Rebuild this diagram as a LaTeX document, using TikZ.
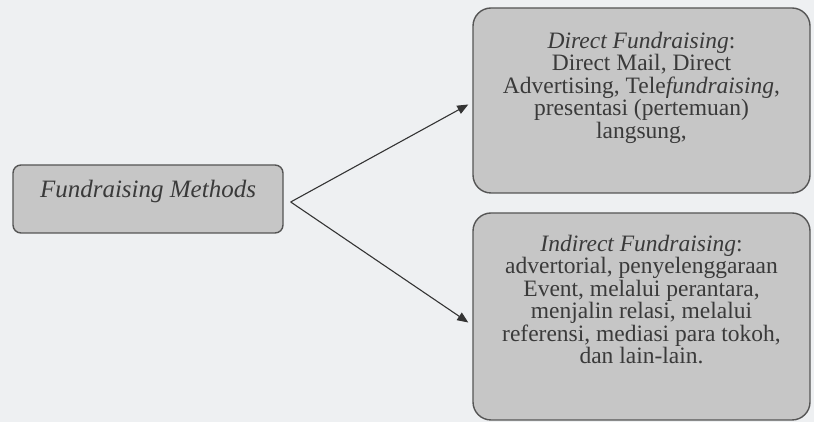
\documentclass[tikz,border=0pt]{standalone}
\usepackage{fontspec}
\setmainfont{Liberation Serif}
\usetikzlibrary{arrows.meta}
\definecolor{bgc}{HTML}{EEF0F2}
\definecolor{boxfill}{HTML}{C6C6C6}
\definecolor{boxline}{HTML}{555555}
\definecolor{txtc}{HTML}{3A3A3A}
\tikzset{
  box/.style={draw=boxline, line width=1.4pt, fill=boxfill, rounded corners=#1, inner sep=0pt},
  box/.default=18pt,
  txt/.style={text=txtc, align=center, font=\fontsize{23.5}{22.5}\selectfont, inner sep=0pt},
  conn/.style={draw=txtc!90!black, line width=1.1pt, -{Triangle[length=11pt,width=9pt]}}
}
\begin{document}
\begin{tikzpicture}[x=1pt,y=1pt]
\fill[bgc] (0,0) rectangle (814,422);
\useasboundingbox (0,0) rectangle (814,422);
\node[box=8pt, minimum width=270pt, minimum height=68pt] (lb) at (148,223) {};
\node[txt, font=\fontsize{25}{26}\selectfont] (lbt) at ([yshift=8pt]lb.center) {\itshape Fundraising Methods};
\node[box, minimum width=337pt, minimum height=185pt] (tb) at (641.5,321.5) {};
\node[txt] (tbt) at ([yshift=13pt]tb.center) {\textit{Direct Fundraising}:\\Direct Mail, Direct\\Advertising, Tele\textit{fundraising},\\presentasi (pertemuan)\\langsung,};
\node[box, minimum width=337pt, minimum height=207pt] (bb) at (641.5,105.5) {};
\node[txt] (bbt) at ([yshift=17pt]bb.center) {\textit{Indirect Fundraising}:\\advertorial, penyelenggaraan\\Event, melalui perantara,\\menjalin relasi, melalui\\referensi, mediasi para tokoh,\\dan lain-lain.};
\coordinate (st) at ([xshift=7pt,yshift=-3pt]lb.east);
\draw[conn] (st) -- ([xshift=-4pt,yshift=-4pt]tb.west);
\draw[conn] (st) -- ([xshift=-4pt,yshift=-6pt]bb.west);
\end{tikzpicture}
\end{document}
